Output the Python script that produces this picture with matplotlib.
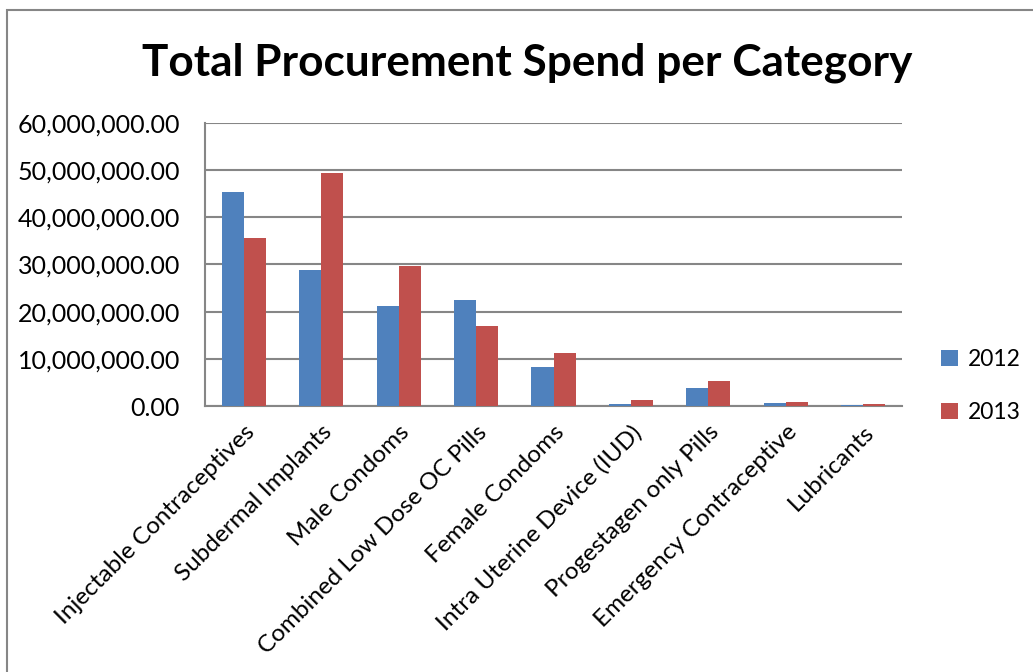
import numpy as np
import matplotlib
matplotlib.use('Agg')
import matplotlib.pyplot as plt
from matplotlib.patches import Rectangle
from matplotlib.ticker import FuncFormatter

plt.rcParams['font.family'] = ['Lato', 'DejaVu Sans']

categories = ['Injectable Contraceptives', 'Subdermal Implants', 'Male Condoms',
              'Combined Low Dose OC Pills', 'Female Condoms', 'Intra Uterine Device (IUD)',
              'Progestagen only Pills', 'Emergency Contraceptive', 'Lubricants']
spend_2012 = [45.4e6, 28.8e6, 21.3e6, 22.4e6, 8.2e6, 0.36e6, 3.8e6, 0.72e6, 0.3e6]
spend_2013 = [35.7e6, 49.4e6, 29.6e6, 16.9e6, 11.2e6, 1.2e6, 5.3e6, 0.93e6, 0.36e6]
yticks = np.arange(0, 60e6 + 1, 10e6)

BLUE = '#4F81BD'
RED = '#C0504D'
GRID = '#868686'

fig = plt.figure(figsize=(10.33, 6.72), dpi=100)
ax = fig.add_axes([205 / 1033, 1 - 406 / 672, 697 / 1033, 283 / 672])

x = np.arange(len(categories))
w = 0.285
ax.bar(x - w / 2, spend_2012, w, color=BLUE, label='2012', zorder=3)
ax.bar(x + w / 2, spend_2013, w, color=RED, label='2013', zorder=3)

ax.set_xlim(-0.5, len(categories) - 0.5)
ax.set_ylim(0, 60e6)
ax.set_yticks(yticks)
ax.yaxis.set_major_formatter(FuncFormatter(lambda v, p: f'{v:,.2f}'))
ax.set_xticks(x)
ax.set_xticklabels(categories, rotation=45, ha='right', rotation_mode='anchor')
ax.tick_params(axis='both', length=0, colors='black')
ax.tick_params(axis='x', pad=11, labelsize=17.5)
ax.tick_params(axis='y', pad=18, labelsize=18)
ax.yaxis.grid(True, color=GRID, linewidth=1.5, zorder=0)
for s in ['top', 'right']:
    ax.spines[s].set_visible(False)
for s in ['left', 'bottom']:
    ax.spines[s].set_color(GRID)
    ax.spines[s].set_linewidth(1.5)

fig.text(527 / 1033, 1 - 63 / 672, 'Total Procurement Spend per Category',
         ha='center', va='center', fontsize=31.8, fontweight='bold')

fig.legend(loc='center left', bbox_to_anchor=(920 / 1033, 1 - 386 / 672),
           frameon=False, fontsize=16.5, handlelength=0.75, handleheight=0.75,
           labelspacing=1.4, handletextpad=0.45)

fig.patches.append(Rectangle((7 / 1033, -0.05), 1.1, 1.05 - 10 / 672, transform=fig.transFigure,
                             fill=False, edgecolor=GRID, linewidth=1.5))

fig.savefig('out.png', dpi=100)
